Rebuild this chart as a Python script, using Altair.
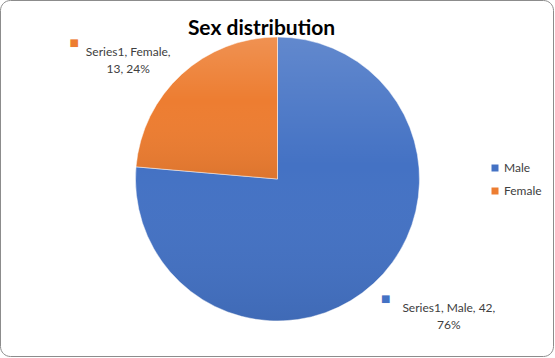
import altair as alt
import pandas as pd

categories = ["Male", "Female"]
values = [42, 13]
percents = ["76%", "24%"]
series_name = "Series1"
colors = ["#4472C4", "#ED7D31"]
label_text = ["Series1, Male, 42,\n76%", "Series1, Female,\n13, 24%"]

df = pd.DataFrame({
    "sex": categories,
    "count": values,
    "pct": percents,
    "label": label_text,
    "idx": list(range(len(categories))),
})

FONT = "Lato"
R = 142

base = (
    alt.Chart(df)
    .transform_joinaggregate(total="sum(count)")
    .transform_window(cum="sum(count)", sort=[alt.SortField("idx")], frame=[None, 0])
    .transform_calculate(
        start="(datum.cum - datum.count)/datum.total",
        end="datum.cum/datum.total",
        mid="(datum.cum - datum.count/2)/datum.total",
    )
)
fscale = alt.Scale(domain=[0, 1])
theta = alt.Theta("start:Q", stack=None, scale=fscale)
theta2 = alt.Theta2("end:Q")

pie = base.mark_arc(radius=R, stroke="white", strokeWidth=0.5).encode(
    theta=theta,
    theta2=theta2,
    color=alt.Color(
        "sex:N",
        scale=alt.Scale(domain=categories, range=colors),
        sort=categories,
        legend=alt.Legend(
            title=None,
            orient="none",
            legendX=488,
            legendY=161,
            symbolType="square",
            symbolSize=49,
            symbolStrokeWidth=0,
            labelFontSize=12,
            labelFont=FONT,
            labelColor="#404040",
            rowPadding=11,
            labelOffset=3,
        ),
    ),
)

grad = alt.LinearGradient(
    gradient="linear",
    stops=[
        alt.GradientStop(color="rgba(255,255,255,0.16)", offset=0),
        alt.GradientStop(color="rgba(255,255,255,0.0)", offset=0.45),
        alt.GradientStop(color="rgba(0,0,0,0.07)", offset=1),
    ],
    x1=0, x2=0, y1=0, y2=1,
)
shade = base.mark_arc(radius=R, fill=grad).encode(theta=theta, theta2=theta2)

ltheta = alt.Theta("mid:Q", stack=None, scale=fscale)

def label_layers(sex, radius, dx, sq_dx, sq_dy):
    sub = base.transform_filter(alt.datum.sex == sex)
    txt = sub.mark_text(
        radius=radius, dx=dx, lineBreak="\n", align="center", baseline="middle",
        font=FONT, fontSize=12, color="#404040", lineHeight=17,
    ).encode(theta=ltheta, text="label:N")
    sq = sub.mark_text(
        radius=radius, dx=sq_dx, dy=sq_dy, text="■", align="center", baseline="middle",
        font="DejaVu Sans", fontSize=10,
    ).encode(
        theta=ltheta,
        color=alt.Color("sex:N", scale=alt.Scale(domain=categories, range=colors), legend=None),
    )
    return [txt, sq]

frame = alt.Chart(pd.DataFrame({"f": [0]})).mark_rect(
    fill="white", fillOpacity=0, stroke="#8c8c8c", strokeWidth=1, cornerRadius=10,
).encode(
    x=alt.value(-0.5), x2=alt.value(552.5), y=alt.value(-0.5), y2=alt.value(355.5),
)

layers = [frame, pie, shade] + label_layers("Female", 172, -33, -87, -9) + label_layers("Male", 175, 53, -10, -9)

chart = alt.layer(*layers).properties(
    width=553,
    height=356,
    padding=1,
    autosize=alt.AutoSizeParams(type="none"),
    title=alt.TitleParams(
        "Sex distribution", font=FONT, fontSize=21, fontWeight="bold", color="black",
        anchor="middle", dx=-16, dy=43,
    ),
).configure(
    background="white",
    view=alt.ViewConfig(stroke=None),
)

chart.save("out.html", embed_options={"renderer": "svg", "actions": False})
